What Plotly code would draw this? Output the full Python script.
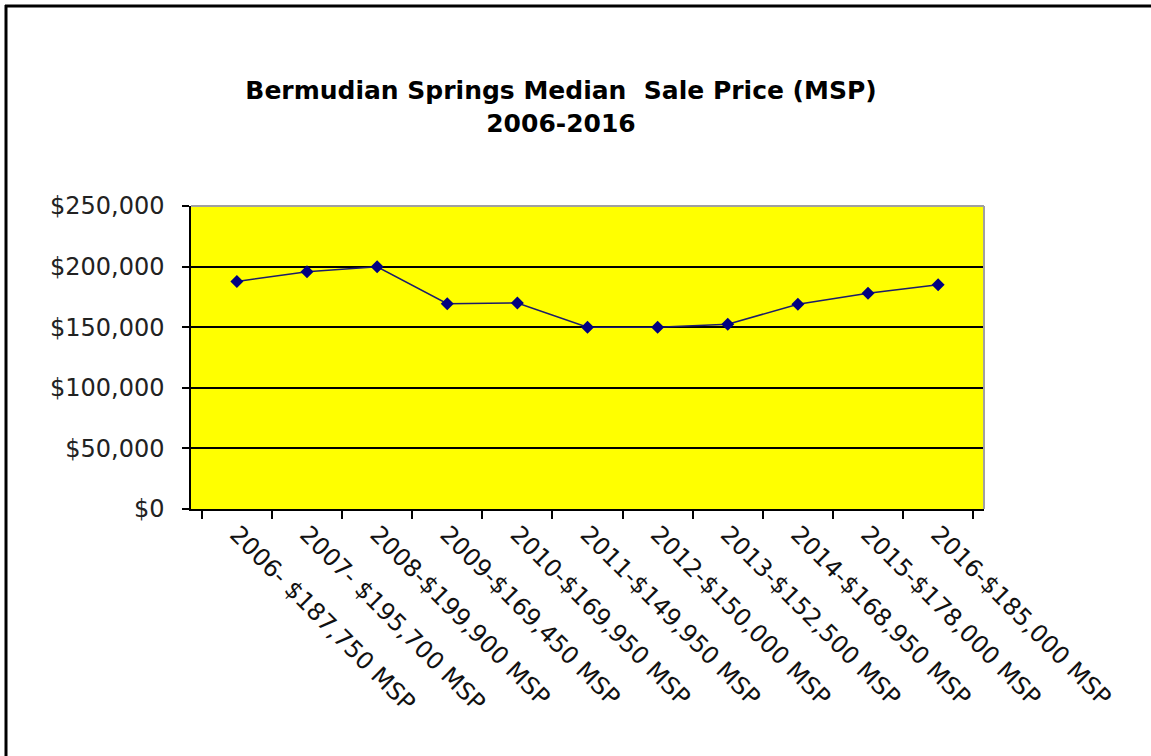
import plotly.graph_objects as go

categories = ["2006- $187,750 MSP", "2007- $195,700 MSP", "2008-$199,900 MSP",
              "2009-$169,450 MSP", "2010-$169,950 MSP", "2011-$149,950 MSP",
              "2012-$150,000 MSP", "2013-$152,500 MSP", "2014-$168,950 MSP",
              "2015-$178,000 MSP", "2016-$185,000 MSP"]
msp_values = [187750, 195700, 199900, 169450, 169950, 149950,
              150000, 152500, 168950, 178000, 185000]
y_ticks = [0, 50000, 100000, 150000, 200000, 250000]
y_tick_labels = ["$0", "$50,000", "$100,000", "$150,000", "$200,000", "$250,000"]

W, H = 1151, 756
L, R, T, B = 191, 984, 206, 509
FONT = "DejaVu Sans"

def px_x(p):
    return (p - L) / (R - L)

def px_y(p):
    return (B - p) / (B - T)

fig = go.Figure()
fig.add_trace(go.Scatter(
    x=categories, y=msp_values, mode="lines+markers",
    line=dict(color="#1c1c6a", width=1.5),
    marker=dict(symbol="diamond", size=10, color="#000080"),
    showlegend=False, hoverinfo="x+y"))

fig.update_layout(
    width=W, height=H,
    margin=dict(l=L, r=W - R, t=T, b=H - B, autoexpand=False),
    paper_bgcolor="white", plot_bgcolor="#ffff00",
    title=dict(text="<b>Bermudian Springs Median  Sale Price (MSP)<br>2006-2016</b>",
               x=561 / W, xref="container", xanchor="center",
               y=1 - 99 / H, yref="container", yanchor="top",
               font=dict(family=FONT, size=25, color="black")),
    xaxis=dict(type="category", tickangle=45, tickson="boundaries",
               ticks="outside", ticklen=8, tickcolor="black", tickwidth=1.5,
               showline=True, linecolor="black", linewidth=1.5,
               showgrid=False, zeroline=False,
               tickfont=dict(family=FONT, size=24, color="#111")),
    yaxis=dict(range=[0, 250000], tickvals=y_ticks, ticktext=y_tick_labels,
               ticks="outside", ticklen=7, tickcolor="black", tickwidth=1.5,
               ticklabelstandoff=13,
               showline=True, linecolor="black", linewidth=1.5,
               showgrid=True, gridcolor="black", gridwidth=1.5, zeroline=False,
               tickfont=dict(family=FONT, size=24, color="#222")),
    shapes=[
        dict(type="line", xref="paper", yref="paper", x0=0, x1=1, y0=1, y1=1,
             line=dict(color="#a0a0a0", width=2)),
        dict(type="line", xref="paper", yref="paper", x0=1, x1=1, y0=0, y1=1,
             line=dict(color="#a0a0a0", width=2)),
        dict(type="line", xref="paper", yref="paper", x0=px_x(5), x1=px_x(1165),
             y0=px_y(6), y1=px_y(6), line=dict(color="black", width=3)),
        dict(type="line", xref="paper", yref="paper", x0=px_x(6), x1=px_x(6),
             y0=px_y(5), y1=px_y(770), line=dict(color="black", width=3)),
    ],
)

fig.write_html("out.html", config={"displayModeBar": False},
               post_script="document.body.style.margin='0';document.body.style.overflow='hidden';")
